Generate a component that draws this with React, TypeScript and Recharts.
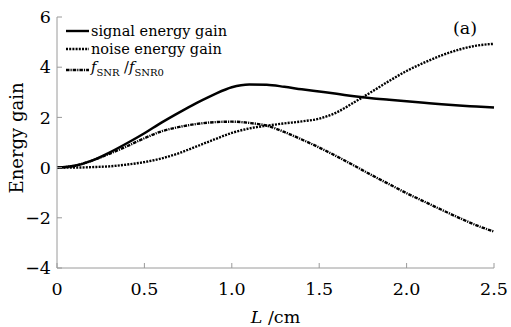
import React from 'react'
import { LineChart, Line, XAxis, YAxis, Label } from 'recharts'

const lengths = [0, 0.1, 0.2, 0.3, 0.4, 0.5, 0.6, 0.7, 0.8, 0.9, 1.0, 1.1, 1.2, 1.3, 1.4, 1.5, 1.6, 1.7, 1.8, 1.9, 2.0, 2.1, 2.2, 2.3, 2.4, 2.5]
const signalGain = [0, 0.07, 0.28, 0.6, 0.97, 1.37, 1.8, 2.2, 2.58, 2.92, 3.2, 3.31, 3.3, 3.22, 3.12, 3.03, 2.94, 2.84, 2.76, 2.7, 2.64, 2.58, 2.52, 2.47, 2.43, 2.39]
const noiseGain = [0, 0.0, 0.02, 0.05, 0.12, 0.22, 0.37, 0.58, 0.85, 1.12, 1.38, 1.56, 1.67, 1.76, 1.84, 1.95, 2.2, 2.6, 3.02, 3.45, 3.85, 4.18, 4.47, 4.7, 4.86, 4.93]
const snrRatio = [0, 0.07, 0.28, 0.55, 0.85, 1.17, 1.45, 1.62, 1.74, 1.81, 1.83, 1.78, 1.67, 1.42, 1.12, 0.8, 0.45, 0.08, -0.3, -0.66, -1.02, -1.35, -1.68, -2.0, -2.3, -2.55]
const xTicks = [0, 0.5, 1.0, 1.5, 2.0, 2.5]
const yTicks = [-4, -2, 0, 2, 4, 6]

const data = lengths.map((L, i) => ({ L, signal: signalGain[i], noise: noiseGain[i], ratio: snrRatio[i] }))

const FONT = '"DejaVu Serif", serif'
const GRAY = '#9a9a9a'
const DASH_NOISE = '2 1.2'
const DASH_RATIO = '3.5 1 1.2 1'

const fmtX = (v: number) => (v === 0 ? '0' : v.toFixed(1))
const fmtY = (v: number) => (v < 0 ? '\u2212' + Math.abs(v) : String(v))

function Sample({ dash }: { dash?: string }) {
  return (
    <svg width={25} height={10} style={{ marginRight: 1 }}>
      <line x1={1} y1={5} x2={24} y2={5} stroke="#000" strokeWidth={2.4} strokeDasharray={dash} />
    </svg>
  )
}

function LegendBox() {
  const row = { display: 'flex', alignItems: 'center', height: 18 }
  return (
    <div style={{ position: 'absolute', left: 65, top: 22, fontFamily: FONT, fontSize: 14.5, color: '#000', lineHeight: '18px' }}>
      <div style={row}><Sample /><span>signal energy gain</span></div>
      <div style={row}><Sample dash={DASH_NOISE} /><span>noise energy gain</span></div>
      <div style={{ ...row, height: 24 }}>
        <Sample dash={DASH_RATIO} />
        <span>
          <i>f</i><sub style={{ fontSize: 10 }}>SNR</sub> /<i>f</i><sub style={{ fontSize: 10 }}>SNR0</sub>
        </span>
      </div>
    </div>
  )
}

export default function App() {
  return (
    <div style={{ position: 'absolute', left: 0, top: 0, width: 511, height: 327, background: '#fff' }}>
      <LineChart width={511} height={327} data={data} margin={{ top: 17, right: 17, left: 0, bottom: 0 }}>
        <XAxis
          xAxisId="b"
          dataKey="L"
          type="number"
          domain={[0, 2.5]}
          ticks={xTicks}
          tickFormatter={fmtX}
          height={59}
          stroke={GRAY}
          tickSize={-5}
          tickMargin={20}
          tick={{ fill: '#000', fontFamily: FONT, fontSize: 17.5 }}
        >
          <Label
            content={({ viewBox }: any) => (
              <text x={viewBox.x + viewBox.width / 2} y={323} textAnchor="middle" fontFamily={FONT} fontSize={17.5} fill="#000">
                <tspan fontStyle="italic">L</tspan>
                <tspan> /cm</tspan>
              </text>
            )}
          />
        </XAxis>
        <XAxis xAxisId="t" orientation="top" dataKey="L" type="number" domain={[0, 2.5]} ticks={xTicks} height={0} stroke={GRAY} tickSize={-5} tickFormatter={() => ''} />
        <YAxis
          yAxisId="l"
          domain={[-4, 6]}
          ticks={yTicks}
          tickFormatter={fmtY}
          width={57}
          stroke={GRAY}
          tickSize={-5}
          tickMargin={11}
          tick={{ fill: '#000', fontFamily: FONT, fontSize: 17.5 }}
        >
          <Label
            content={() => (
              <text x={16} y={138} dominantBaseline="central" transform="rotate(-90 16 138)" textAnchor="middle" fontFamily={FONT} fontSize={18} fill="#000">
                Energy gain
              </text>
            )}
          />
        </YAxis>
        <YAxis yAxisId="r" orientation="right" domain={[-4, 6]} ticks={yTicks} width={0} stroke={GRAY} tickSize={-5} tickFormatter={() => ''} />
        <Line xAxisId="b" yAxisId="l" type="monotone" dataKey="signal" name="signal energy gain" stroke="#000" strokeWidth={2.5} dot={false} isAnimationActive={false} />
        <Line xAxisId="b" yAxisId="l" type="monotone" dataKey="noise" name="noise energy gain" stroke="#000" strokeWidth={2.4} strokeDasharray={DASH_NOISE} dot={false} isAnimationActive={false} />
        <Line xAxisId="b" yAxisId="l" type="monotone" dataKey="ratio" name="fSNR/fSNR0" stroke="#000" strokeWidth={2.4} strokeDasharray={DASH_RATIO} dot={false} isAnimationActive={false} />
      </LineChart>
      <LegendBox />
      <div style={{ position: 'absolute', left: 453, top: 18, fontFamily: FONT, fontSize: 17.5, color: '#000' }}>(a)</div>
    </div>
  )
}
